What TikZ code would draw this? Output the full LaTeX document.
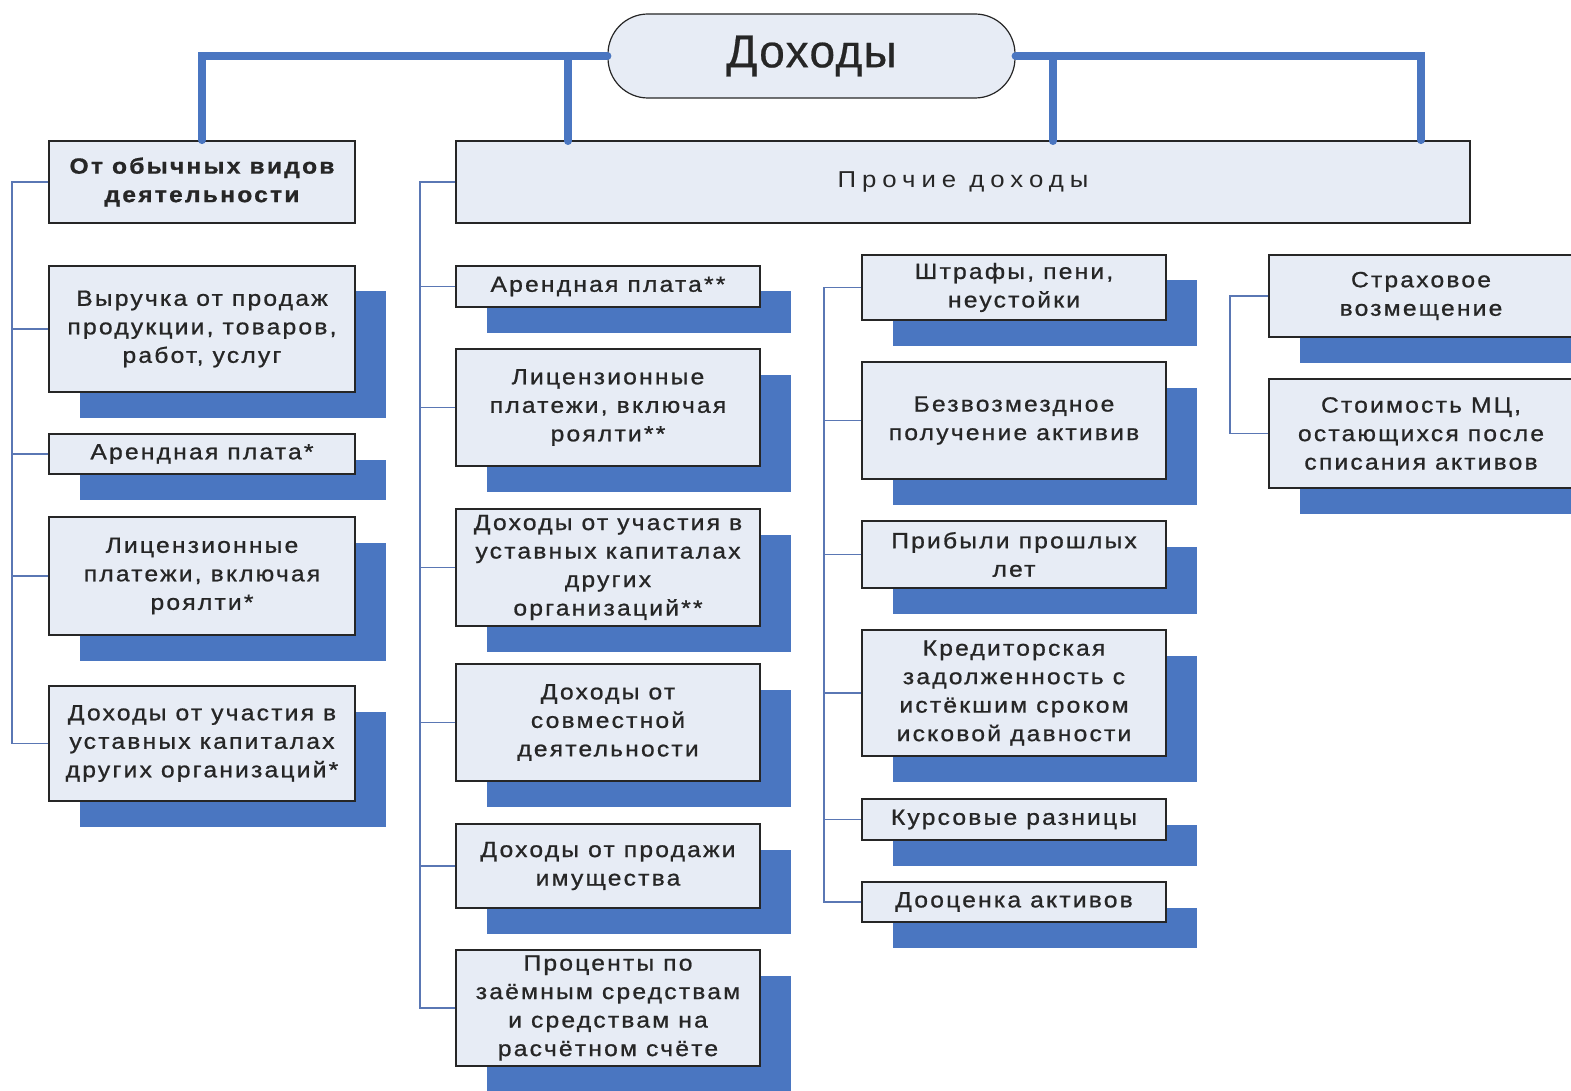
\documentclass[tikz,border=0pt]{standalone}
\usepackage{fontspec}
\setmainfont{Liberation Sans}[LetterSpace=10,FakeStretch=1.12,RawFeature={embolden=0.9}]
\newfontfamily\widefont{Liberation Sans}[LetterSpace=26,FakeStretch=1.12]
\newfontfamily\headfont{Liberation Sans}[LetterSpace=3,RawFeature={embolden=0.5}]
\usetikzlibrary{shadows}
\definecolor{ink}{HTML}{262626}
\definecolor{paper}{HTML}{E7ECF5}
\definecolor{bar}{HTML}{4A76C1}
\definecolor{twig}{HTML}{5A77B4}

\begin{document}
\begin{tikzpicture}[x=1pt,y=-1pt,text=ink,
  item/.style={draw=ink,line width=1.8pt,fill=paper,align=center,inner sep=2pt,
    minimum width=304pt,font=\fontsize{22}{28.5}\selectfont},
  shaded/.style={item,drop shadow={shadow xshift=31pt,shadow yshift=-25.5pt,fill=bar,opacity=1}},
  trunk/.style={bar,line width=8pt,line cap=round},
  tree/.style={twig,line width=1.3pt}]
  \useasboundingbox (0,0) rectangle (1571,1091);
  \begin{scope}
  \clip (0,0) rectangle (1571,1091);
  % title and the two heads
  \node[draw=ink,line width=1.2pt,fill=paper,rounded corners=40pt,minimum width=407pt,minimum height=84pt,
    font=\fontsize{46}{50}\headfont] (title) at (811.5,56) {Доходы};
  \node[item,minimum width=306pt,minimum height=82pt,font=\fontsize{22}{28.5}\selectfont\bfseries] (usual) at (202,182)
    {От обычных видов\\деятельности};
  \node[item,minimum width=1014pt,minimum height=82pt,font=\fontsize{23}{28}\selectfont\widefont] (other) at (963,182)
    {Прочие доходы};
  % ordinary activities
  \node[shaded,minimum width=306pt,minimum height=126pt] (u1) at (202,329)
    {Выручка от продаж\\продукции, товаров,\\работ, услуг};
  \node[shaded,minimum width=306pt,minimum height=40pt] (u2) at (202,454) {Арендная плата*};
  \node[shaded,minimum width=306pt,minimum height=118pt] (u3) at (202,576)
    {Лицензионные\\платежи, включая\\роялти*};
  \node[shaded,minimum width=306pt,minimum height=115pt] (u4) at (202,743.5)
    {Доходы от участия в\\уставных капиталах\\других организаций*};
  % other income, column a
  \node[shaded,minimum height=41pt] (a1) at (608,286.5) {Арендная плата**};
  \node[shaded,minimum height=117pt] (a2) at (608,407.5)
    {Лицензионные\\платежи, включая\\роялти**};
  \node[shaded,minimum height=117pt] (a3) at (608,567.5)
    {Доходы от участия в\\уставных капиталах\\других\\организаций**};
  \node[shaded,minimum height=117pt] (a4) at (608,722.5)
    {Доходы от\\совместной\\деятельности};
  \node[shaded,minimum height=84pt] (a5) at (608,866)
    {Доходы от продажи\\имущества};
  \node[shaded,minimum height=116pt] (a6) at (608,1008)
    {Проценты по\\заёмным средствам\\и средствам на\\расчётном счёте};
  % column b
  \node[shaded,minimum height=65pt] (b1) at (1014,287.5) {Штрафы, пени,\\неустойки};
  \node[shaded,minimum height=117pt] (b2) at (1014,420.5) {Безвозмездное\\получение активив};
  \node[shaded,minimum height=67pt] (b3) at (1014,554.5) {Прибыли прошлых\\лет};
  \node[shaded,minimum height=126pt] (b4) at (1014,693)
    {Кредиторская\\задолженность с\\истёкшим сроком\\исковой давности};
  \node[shaded,minimum height=41pt] (b5) at (1014,819.5) {Курсовые разницы};
  \node[shaded,minimum height=40pt] (b6) at (1014,902) {Дооценка активов};
  % column c
  \node[shaded,minimum height=82pt] (c1) at (1421,296) {Страховое\\возмещение};
  \node[shaded,minimum height=109pt] (c2) at (1421,433.5)
    {Стоимость МЦ,\\остающихся после\\списания активов};
  % thick links from the title
  \coordinate (tapL) at (568,141);
  \coordinate (tapR) at (1053,141);
  \draw[trunk] (title.west) -| (usual.north);
  \draw[trunk] (tapL) -- (tapL |- title.west);
  \draw[trunk] (title.east) -| (c1.north |- other.north);
  \draw[trunk] (tapR) -- (tapR |- title.east);
  % thin trees
  \coordinate (spineU) at (12,182);
  \coordinate (spineA) at (420,182);
  \coordinate (spineB) at (824,287);
  \coordinate (spineC) at (1230,295);
  \draw[tree] (usual.west) -- (usual.west -| spineU) -- (u4.west -| spineU) -- (u4.west);
  \foreach \n in {u1,u2,u3} \draw[tree] (\n.west) -- (\n.west -| spineU);
  \draw[tree] (other.west) -- (other.west -| spineA) -- (a6.west -| spineA) -- (a6.west);
  \foreach \n in {a1,a2,a3,a4,a5} \draw[tree] (\n.west) -- (\n.west -| spineA);
  \draw[tree] (b1.west) -- (b1.west -| spineB) -- (b6.west -| spineB) -- (b6.west);
  \foreach \n in {b2,b3,b4,b5} \draw[tree] (\n.west) -- (\n.west -| spineB);
  \draw[tree] (c1.west) -- (c1.west -| spineC) -- (c2.west -| spineC) -- (c2.west);
  \end{scope}
\end{tikzpicture}
\end{document}
